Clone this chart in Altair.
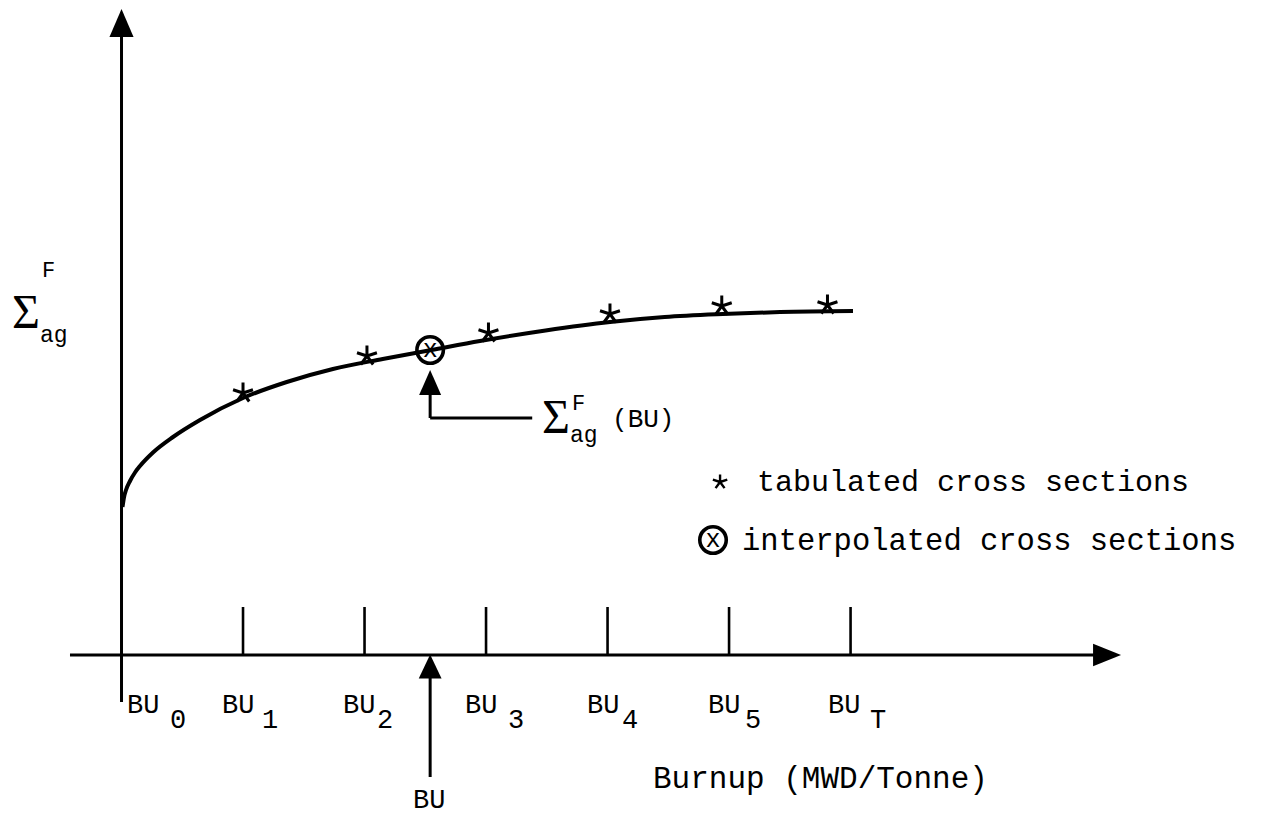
import altair as alt
import pandas as pd

# Schematic units: x = burnup step (BU_k = k), y = cross section (arbitrary)
XDOM = [-1.0, 9.6]
YDOM = [-1.6, 6.55]

# smooth cross-section curve vs burnup
curve_u = [0.008, 0.021, 0.037, 0.070, 0.111, 0.152, 0.259, 0.424, 0.646, 1.0, 1.36, 1.74, 2.15, 2.55, 2.95, 3.49, 4.02, 4.47, 4.95, 5.42, 6.02]
curve_v = [1.48, 1.58, 1.65, 1.74, 1.825, 1.89, 2.025, 2.18, 2.35, 2.57, 2.73, 2.86, 2.96, 3.05, 3.14, 3.245, 3.33, 3.38, 3.41, 3.43, 3.44]

# tabulated cross sections (asterisks)
tab_u = [1.0, 2.02, 3.02, 4.02, 4.94, 5.81]
tab_v = [2.62, 2.99, 3.22, 3.41, 3.49, 3.50]

# interpolated cross section at BU
interp_u = [2.54]
interp_v = [3.05]

# burnup tick positions
tick_u = [1, 2, 3, 4, 5, 6]

# text labels (mono font)
bu_label_u = [0.045, 0.827, 1.823, 2.827, 3.831, 4.827, 5.815]
sub_label_u = [0.399, 1.156, 2.103, 3.181, 4.119, 5.132, 6.160]
sub_names = ["0", "1", "2", "3", "4", "5", "T"]

X = dict(scale=alt.Scale(domain=XDOM), axis=None)
Y = dict(scale=alt.Scale(domain=YDOM), axis=None)


def xenc(f="u"):
    return alt.X(f"{f}:Q", **X)


def yenc(f="v"):
    return alt.Y(f"{f}:Q", **Y)


BLACK = "#000000"
MONO = "Liberation Mono"
SERIF = "Liberation Serif"

# ---------------- lines ----------------
rules = pd.DataFrame([
    dict(u=-0.424, v=0.0, u2=8.01, v2=0.0, w=3.0),       # x axis
    dict(u=0.0, v=-0.47, u2=0.0, v2=6.18, w=3.0),        # y axis
    dict(u=2.54, v=-0.23, u2=2.54, v2=-1.22, w=3.0),     # BU arrow shaft
    dict(u=2.54, v=2.60, u2=2.54, v2=2.37, w=3.0),       # annotation shaft
    dict(u=2.54, v=2.37, u2=3.38, v2=2.37, w=3.0),       # annotation leader
] + [dict(u=k, v=0.0, u2=k, v2=0.48, w=2.6) for k in tick_u])

rule_layer = alt.Chart(rules).mark_rule(color=BLACK).encode(
    x=xenc(), x2="u2:Q", y=yenc(), y2="v2:Q",
    strokeWidth=alt.StrokeWidth("w:Q", scale=None),
)

curve = alt.Chart(pd.DataFrame({"u": curve_u, "v": curve_v})).mark_line(
    color=BLACK, strokeWidth=4, interpolate="monotone"
).encode(x=xenc(), y=yenc())

# ---------------- arrowheads ----------------
UP = "M0,-1L0.86,1L-0.86,1Z"
RIGHT = "M1,0L-1,-0.8L-1,0.8Z"

def head(df, shape, size):
    return alt.Chart(df).mark_point(
        shape=shape, filled=True, size=size, color=BLACK, opacity=1
    ).encode(x=xenc(), y=yenc())

head_y = head(pd.DataFrame({"u": [0.0], "v": [6.32]}), UP, 784)
head_x = head(pd.DataFrame({"u": [8.111], "v": [0.0]}), RIGHT, 784)
head_bu = head(pd.DataFrame({"u": [2.54], "v": [-0.115]}), "M0,-1L0.95,1L-0.95,1Z", 576)
head_ann = head(pd.DataFrame({"u": [2.54], "v": [2.725]}), "M0,-1L0.88,1L-0.88,1Z", 625)

# ---------------- markers ----------------
STAR = "M0,-1L0,0M0.95,-0.31L0,0M0.59,0.81L0,0M-0.59,0.81L0,0M-0.95,-0.31L0,0"

stars = alt.Chart(pd.DataFrame({"u": tab_u, "v": tab_v})).mark_point(
    shape=STAR, filled=False, size=440, strokeWidth=3, color=BLACK, opacity=1
).encode(x=xenc(), y=yenc())

circ_df = pd.DataFrame({"u": interp_u + [4.868], "v": interp_v + [1.15]})
circles = alt.Chart(circ_df).mark_point(
    shape="circle", filled=False, size=700, strokeWidth=3.6, color=BLACK, opacity=1
).encode(x=xenc(), y=yenc())
circle_x = alt.Chart(circ_df.assign(t="x")).mark_text(
    font=MONO, fontSize=25, align="center", baseline="middle", color=BLACK, dy=-1
).encode(x=xenc(), y=yenc(), text="t:N")

legend_star = alt.Chart(pd.DataFrame({"u": [4.926], "v": [1.73]})).mark_point(
    shape=STAR, filled=False, size=230, strokeWidth=2.4, color=BLACK, opacity=1
).encode(x=xenc(), y=yenc())

# ---------------- text ----------------
rows = []
for u0, u1, s in zip(bu_label_u, sub_label_u, sub_names):
    rows.append(dict(u=u0, v=-0.58, t="BU", s=27))
    rows.append(dict(u=u1, v=-0.73, t=s, s=27))
rows += [
    dict(u=2.399, v=-1.53, t="BU", s=27),
    dict(u=4.374, v=-1.33, t="Burnup (MWD/Tonne)", s=31),
    dict(u=5.230, v=1.64, t="tabulated cross sections", s=30),
    dict(u=5.107, v=1.05, t="interpolated cross sections", s=30.5),
    dict(u=4.037, v=2.28, t="(BU)", s=26),
    dict(u=-0.654, v=3.78, t="F", s=22),
    dict(u=-0.671, v=3.13, t="ag", s=23),
    dict(u=3.708, v=2.45, t="F", s=22),
    dict(u=3.691, v=2.13, t="ag", s=23),
]
mono_text = alt.Chart(pd.DataFrame(rows)).mark_text(
    font=MONO, align="left", baseline="alphabetic", color=BLACK
).encode(x=xenc(), y=yenc(), text="t:N", size=alt.Size("s:Q", scale=None))

sigma = alt.Chart(pd.DataFrame({"u": [-0.901, 3.461], "v": [3.27, 2.22], "t": ["Σ", "Σ"]})).mark_text(
    font=SERIF, fontSize=48, align="left", baseline="alphabetic", color=BLACK
).encode(x=xenc(), y=yenc(), text="t:N")

chart = alt.layer(
    rule_layer, curve, head_y, head_x, head_bu, head_ann,
    stars, circles, circle_x, legend_star, mono_text, sigma,
).properties(
    width=1288, height=815, padding=0,
    autosize=alt.AutoSizeParams(type="none"),
    background="white",
).configure_view(stroke=None)

chart.save("out.html", embed_options={"renderer": "svg", "actions": False})
